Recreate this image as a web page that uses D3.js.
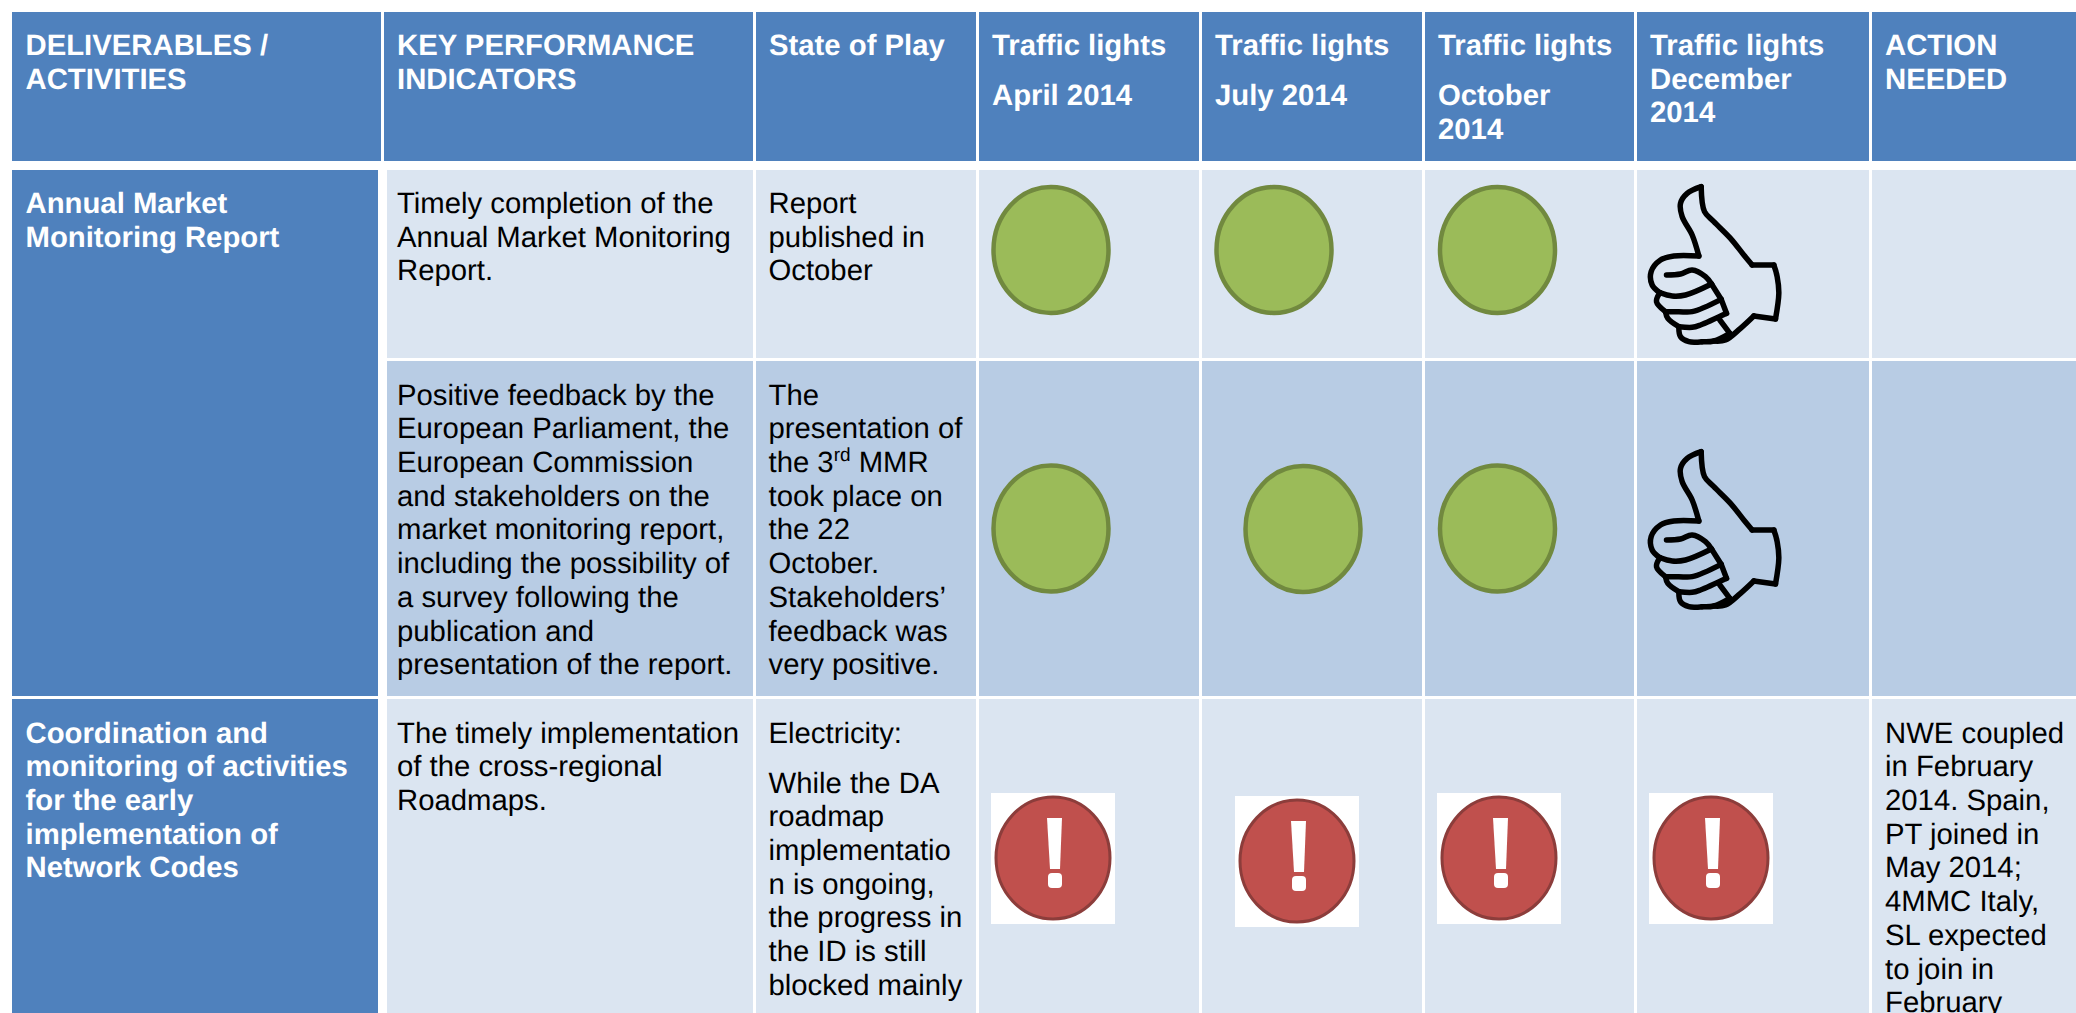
<!DOCTYPE html>
<html><head><meta charset="utf-8">
<script src="https://cdn.jsdelivr.net/npm/d3@7/dist/d3.min.js"></script>
<style>html,body{margin:0;padding:0;background:#fff;overflow:hidden}svg{display:block}
text{font-family:"Liberation Sans",Arial,sans-serif;font-size:29.3px;text-rendering:geometricPrecision}</style>
</head><body><svg id="c" width="2076" height="1013"></svg>
<script>
// ---- content ----
const headerCells = [
  ["DELIVERABLES /","ACTIVITIES"],
  ["KEY PERFORMANCE","INDICATORS"],
  ["State of Play"],
  ["Traffic lights","","April 2014"],
  ["Traffic lights","","July 2014"],
  ["Traffic lights","","October","2014"],
  ["Traffic lights","December","2014"],
  ["ACTION","NEEDED"]
];
const deliverables = [
  ["Annual Market","Monitoring Report"],
  ["Coordination and","monitoring of activities","for the early","implementation of","Network Codes"]
];
const kpis = [
  ["Timely completion of the","Annual Market Monitoring","Report."],
  ["Positive feedback by the","European Parliament, the","European Commission","and stakeholders on the","market monitoring report,","including the possibility of","a survey following the","publication and","presentation of the report."],
  ["The timely implementation","of the cross-regional","Roadmaps."]
];
const stateOfPlay = [
  ["Report","published in","October"],
  ["The","presentation of","the 3|rd| MMR","took place on","the 22","October.","Stakeholders\u2019","feedback was","very positive."],
  ["Electricity:"]
];
const stateOfPlayPara2 = ["While the DA","roadmap","implementatio","n is ongoing,","the progress in","the ID is still","blocked mainly"];
const actionNeeded = ["NWE coupled","in February","2014. Spain,","PT joined in","May 2014;","4MMC Italy,","SL expected","to join in","February"];
const lights = [
  ["green","green","green","thumb"],
  ["green","green","green","thumb"],
  ["alert","alert","alert","alert"]
];
// ---- layout ----
const colLeft  = [12,384,756,979,1202,1425,1637,1872];
const colRight = [381,753,976,1199,1422,1634,1869,2076];
const rowTop   = [170,361,699];
const rowBot   = [358,696,1013];
const rowFill  = ["#DBE5F1","#B8CCE4","#DBE5F1"];
const lineH = 33.7;
const textShift = 0.9;
const iconX = [[0,0,0,0],[0,29,0,0],[0,0,0,0]];
const iconY = [[250,250,250,185],[528.5,529,528.5,450],[858,861,858,858]];
const iconCx = [1051,1274,1497.5,1650];
const thumbStrokes = [
  [[212,50],[170,70],[150,100],[155,140],[185,195],[205,258]],
  [[205,258],[130,258],[90,270],[62,305],[65,345],[88,368]],
  [[88,368],[78,395],[105,425]],
  [[105,425],[112,445],[145,470]],
  [[145,470],[150,500],[175,515],[215,515]],
  [[250,513],[285,510],[330,475],[370,438]],
  [[370,438],[435,447]],
  [[435,447],[445,370],[440,320],[430,285]],
  [[430,285],[365,285]],
  [[365,285],[340,255],[300,205],[250,155],[222,125],[212,50]],
  [[108,315],[150,312],[185,300],[225,320],[243,342]],
  [[243,342],[165,375],[125,378],[88,368]],
  [[243,342],[272,388]],
  [[272,388],[185,425],[145,425],[105,425]],
  [[272,388],[288,430]],
  [[288,430],[210,465],[185,472],[145,470]],
  [[268,450],[298,490]],
  [[298,490],[250,513],[215,515]]
];

const svg = d3.select("#c");
const nCols = colLeft.length;
const x0 = d3.scaleOrdinal().domain(d3.range(nCols)).range(colLeft);
const x1 = d3.scaleOrdinal().domain(d3.range(nCols)).range(colRight);
const textX = i => i===0 ? 25.5 : x0(i)+13;

function addLines(g, lines, x, y, opts={}){
  lines.forEach((ln,i)=>{
    if(!ln) return;
    const t = g.append("text").attr("x",x).attr("y",y+i*lineH+textShift)
      .attr("fill",opts.fill||"#000").attr("font-weight",opts.bold?"bold":"normal");
    ln.split("|").forEach((part,k)=>{
      const sup = k===1;
      t.append("tspan").text(part)
       .attr("dy", sup?-11: (k===2?11:0))
       .style("font-size", sup?"19px":null);
    });
  });
}

// header
const gH = svg.append("g");
gH.selectAll("rect").data(headerCells).join("rect")
  .attr("x",(d,i)=>x0(i)).attr("y",12).attr("width",(d,i)=>x1(i)-x0(i)).attr("height",149).attr("fill","#4F81BD");
headerCells.forEach((lines,i)=>{
  const isTL = lines[1]==="";
  const offs = isTL ? lines.map((l,k)=> k===0?54:(k===2?104:138)) : null;
  lines.forEach((l,k)=>{
    if(!l) return;
    gH.append("text").attr("x",textX(i)).attr("y",(isTL?offs[k]:54+k*lineH)+textShift)
      .attr("fill","#fff").attr("font-weight","bold").text(l);
  });
});

// body cells
const gB = svg.append("g");
[[170,696,0],[699,1013,1]].forEach(([t,b,k])=>{
  gB.append("rect").attr("x",12).attr("y",t).attr("width",366).attr("height",b-t).attr("fill","#4F81BD");
  addLines(gB, deliverables[k], 25.5, k===0?212:741.7, {fill:"#fff",bold:true});
});
rowTop.forEach((t,r)=>{
  d3.range(1,nCols).forEach(c=>{
    const l = c===1?387:x0(c);
    gB.append("rect").attr("x",l).attr("y",t).attr("width",x1(c)-l).attr("height",rowBot[r]-t).attr("fill",rowFill[r]);
  });
});
const rowBase = [212,403.7,741.7];
kpis.forEach((lines,r)=>addLines(gB,lines,397,rowBase[r]));
stateOfPlay.forEach((lines,r)=>addLines(gB,lines,768.5,rowBase[r]));
addLines(gB,stateOfPlayPara2,768.5,791.7);
addLines(gB,actionNeeded,1885,741.7);

// icons
const gI = svg.append("g");
const thumbLine = d3.line().curve(d3.curveCatmullRom.alpha(0.5))
  .x(d=>d[0]/3).y(d=>d[1]/3);
lights.forEach((row,r)=>row.forEach((kind,c)=>{
  const cx = iconCx[c]+iconX[r][c], cy = iconY[r][c];
  if(kind==="green"){
    gI.append("ellipse").attr("cx",cx).attr("cy",cy).attr("rx",57.5).attr("ry",63)
      .attr("fill","#9BBB59").attr("stroke","#71893F").attr("stroke-width",4.5);
  } else if(kind==="thumb"){
    const g = gI.append("g").attr("transform",`translate(1630.5,${cy-15})`);
    g.selectAll("path").data(thumbStrokes).join("path").attr("d",thumbLine)
      .attr("fill","none").attr("stroke","#000").attr("stroke-width",5.5).attr("stroke-linejoin","round").attr("stroke-linecap","round");
  } else {
    const left = [991,1235,1437,1649][c];
    const g = gI.append("g").attr("transform",`translate(${left},${cy-65})`);
    g.append("rect").attr("width",124).attr("height",131).attr("fill","#fff");
    g.append("ellipse").attr("cx",62).attr("cy",65).attr("rx",57).attr("ry",61)
      .attr("fill","#C0504D").attr("stroke","#8C3D3B").attr("stroke-width",3);
    g.append("path").attr("d","M56,25 L71,25 L69,76 L59,76 Z").attr("fill","#fff");
    g.append("rect").attr("x",57).attr("y",80).attr("width",14).attr("height",15).attr("rx",4).attr("fill","#fff");
  }
}));
</script></body></html>
